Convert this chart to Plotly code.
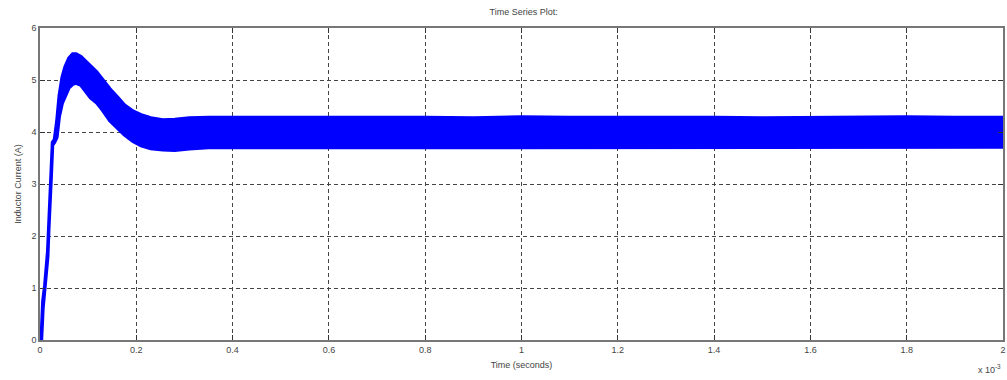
import plotly.graph_objects as go

# time in milliseconds (axis is x 10^-3 s)
t_ms = [0.000, 0.003, 0.006, 0.010, 0.016, 0.018, 0.020, 0.023, 0.026, 0.030,
        0.035, 0.040, 0.046, 0.052, 0.060, 0.068, 0.075, 0.085, 0.095, 0.105,
        0.118, 0.130, 0.145, 0.160, 0.175, 0.193, 0.210, 0.230, 0.255, 0.280,
        0.310, 0.350, 0.400, 0.500, 0.600, 0.700, 0.800, 0.900, 1.000, 1.100,
        1.200, 1.300, 1.400, 1.500, 1.600, 1.700, 1.800, 1.900, 2.000]

upper_A = [0.00, 0.10, 0.75, 1.05, 1.70, 2.20, 2.75, 3.20, 3.80, 3.85,
           4.20, 4.70, 5.05, 5.25, 5.42, 5.50, 5.50, 5.45, 5.35, 5.27,
           5.15, 5.00, 4.83, 4.68, 4.52, 4.40, 4.33, 4.27, 4.23, 4.24,
           4.27, 4.28, 4.28, 4.29, 4.28, 4.29, 4.28, 4.27, 4.29, 4.28,
           4.28, 4.29, 4.28, 4.27, 4.28, 4.28, 4.29, 4.28, 4.28]

lower_A = [0.00, 0.00, 0.60, 0.95, 1.60, 2.10, 2.60, 3.10, 3.75, 3.80,
           3.90, 4.30, 4.55, 4.70, 4.85, 4.92, 4.94, 4.90, 4.78, 4.66,
           4.56, 4.42, 4.22, 4.08, 3.95, 3.82, 3.74, 3.68, 3.66, 3.65,
           3.68, 3.70, 3.71, 3.71, 3.70, 3.71, 3.71, 3.70, 3.71, 3.71,
           3.70, 3.71, 3.71, 3.70, 3.71, 3.71, 3.70, 3.71, 3.71]

x_ticks = [0, 0.2, 0.4, 0.6, 0.8, 1.0, 1.2, 1.4, 1.6, 1.8, 2.0]
x_tick_labels = ["0", "0.2", "0.4", "0.6", "0.8", "1", "1.2", "1.4", "1.6", "1.8", "2"]
y_ticks = [0, 1, 2, 3, 4, 5, 6]
y_tick_labels = ["0", "1", "2", "3", "4", "5", "6"]

poly_x = t_ms + t_ms[::-1]
poly_y = upper_A + lower_A[::-1]

fig = go.Figure()
fig.add_trace(go.Scatter(
    x=poly_x, y=poly_y, mode="lines", fill="toself",
    fillcolor="#0000FF", line=dict(color="#0000FF", width=3.5),
    hoverinfo="skip", showlegend=False))

font = dict(family="Liberation Sans, Arial, sans-serif", size=9, color="#444444")
axis_common = dict(
    showgrid=True, gridcolor="#444444", griddash="4px,3px", gridwidth=1,
    zeroline=False, showline=True, linecolor="#777777", linewidth=1.5,
    mirror="allticks", ticks="inside", ticklen=5, tickcolor="#333333",
    tickfont=font)

fig.update_layout(
    width=1007, height=380,
    margin=dict(l=40, r=2, t=28, b=40),
    paper_bgcolor="white", plot_bgcolor="white",
    title=dict(text="Time Series Plot:", x=0.52, xanchor="center", y=0.968,
               yanchor="middle", font=font),
    xaxis=dict(range=[0, 2], tickvals=x_ticks, ticktext=x_tick_labels,
               title=dict(text="Time (seconds)", font=font, standoff=8), **axis_common),
    yaxis=dict(range=[0, 6], tickvals=y_ticks, ticktext=y_tick_labels,
               title=dict(text="Inductor Current (A)", font=font, standoff=8), **axis_common),
    annotations=[dict(text="x 10<sup>-3</sup>", xref="paper", yref="paper",
                      x=1.0, y=-0.118, xanchor="right", yanchor="bottom",
                      showarrow=False, font=font)],
)

fig.write_html("out.html")
